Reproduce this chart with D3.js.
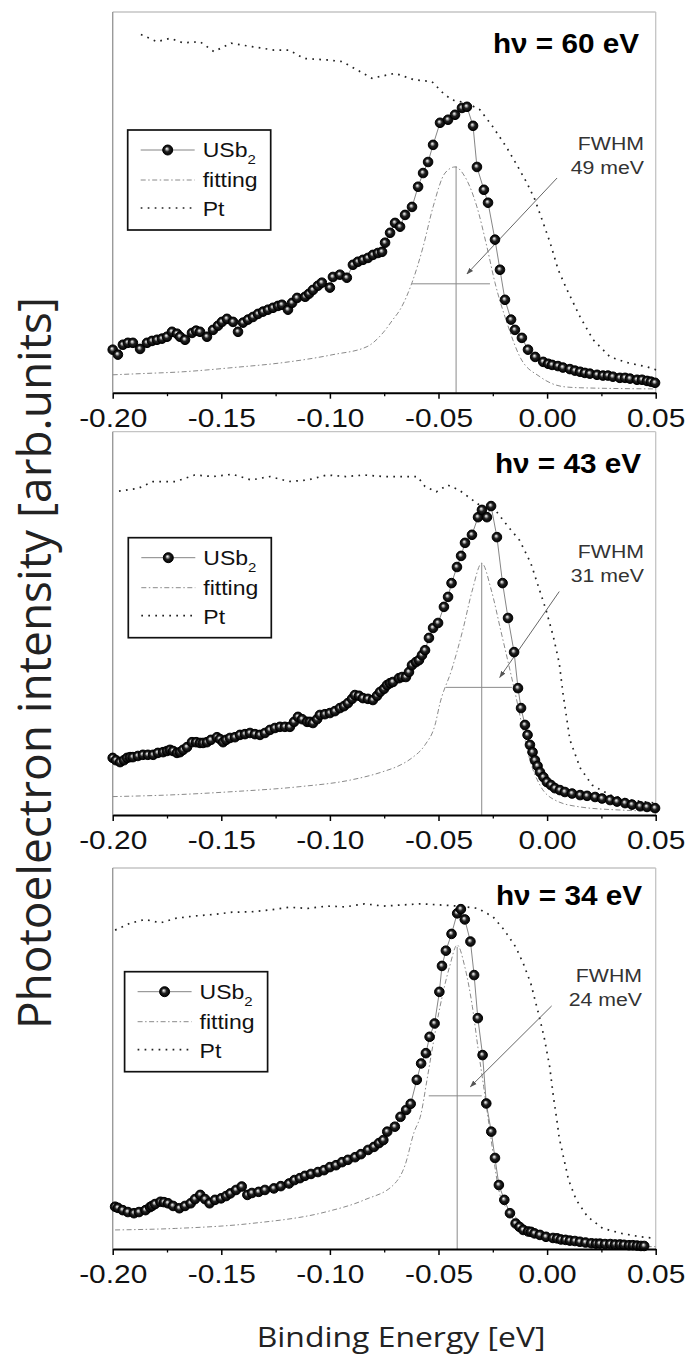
<!DOCTYPE html>
<html><head><meta charset="utf-8">
<script src="https://cdn.jsdelivr.net/npm/d3@7"></script>
<style>body{margin:0;background:#fff}</style>
</head><body>
<svg id="c" width="692" height="1356"></svg>
<script>
// ---------------- DATA ----------------
const energyTicks = [-0.20, -0.15, -0.10, -0.05, 0.00, 0.05];
const minorTicks = [-0.175, -0.125, -0.075, -0.025, 0.025];
const tickLabels = ["-0.20", "-0.15", "-0.10", "-0.05", "0.00", "0.05"];
const panelTitles = ["hν = 60 eV", "hν = 43 eV", "hν = 34 eV"];
const fwhmLabels = ["49 meV", "31 meV", "24 meV"];
const legendLabels = ["USb", "fitting", "Pt"];
const xTitle = "Binding Energy [eV]";
const yTitle = "Photoelectron intensity [arb.units]";

// hv = 60 eV  [energy (eV), intensity (arb.)]
const usb2_60 = [[-0.2000,11.3],[-0.1976,10.0],[-0.1953,12.6],[-0.1930,13.1],[-0.1907,13.1],[-0.1874,11.5],[-0.1842,13.1],[-0.1819,13.6],[-0.1796,13.9],[-0.1773,14.2],[-0.1750,14.7],[-0.1727,16.0],[-0.1704,15.5],[-0.1690,14.7],[-0.1667,13.9],[-0.1635,15.7],[-0.1616,16.3],[-0.1598,16.0],[-0.1566,14.7],[-0.1538,16.5],[-0.1515,17.6],[-0.1497,18.6],[-0.1474,19.4],[-0.1446,18.6],[-0.1423,16.0],[-0.1400,18.4],[-0.1377,19.2],[-0.1354,19.9],[-0.1331,20.7],[-0.1308,21.3],[-0.1285,21.8],[-0.1262,22.3],[-0.1239,22.8],[-0.1221,23.1],[-0.1193,21.8],[-0.1174,23.6],[-0.1151,24.9],[-0.1114,25.2],[-0.1096,26.0],[-0.1078,27.0],[-0.1055,28.1],[-0.1037,28.9],[-0.1000,27.6],[-0.0986,30.4],[-0.0954,31.0],[-0.0922,30.2],[-0.0894,33.6],[-0.0871,34.4],[-0.0848,34.9],[-0.0825,35.4],[-0.0802,36.2],[-0.0779,36.7],[-0.0760,37.0],[-0.0746,39.4],[-0.0723,42.0],[-0.0700,44.6],[-0.0677,43.6],[-0.0654,46.7],[-0.0622,48.8],[-0.0594,54.1],[-0.0571,57.7],[-0.0548,60.6],[-0.0525,65.1],[-0.0493,70.9],[-0.0456,71.7],[-0.0424,73.0],[-0.0392,74.8],[-0.0369,75.1],[-0.0341,70.1],[-0.0323,59.3],[-0.0291,53.3],[-0.0272,49.9],[-0.0240,40.2],[-0.0217,32.3],[-0.0194,24.4],[-0.0166,19.2],[-0.0148,16.5],[-0.0116,14.4],[-0.0088,11.3],[-0.0055,9.4],[-0.0018,8.1],[0.0005,7.6],[0.0023,7.3],[0.0050,7.0],[0.0073,6.6],[0.0105,6.2],[0.0128,5.8],[0.0152,5.5],[0.0174,5.2],[0.0197,5.0],[0.0230,4.7],[0.0257,4.5],[0.0280,4.5],[0.0303,4.2],[0.0335,3.9],[0.0359,3.9],[0.0382,3.7],[0.0414,3.4],[0.0437,3.4],[0.0460,3.1],[0.0478,2.9],[0.0497,2.6]];
const fit_60 = [[-0.2000,4.7],[-0.1874,5.0],[-0.1676,5.5],[-0.1446,6.6],[-0.1216,7.9],[-0.0986,10.0],[-0.0829,12.1],[-0.0756,15.7],[-0.0710,19.2],[-0.0677,21.8],[-0.0622,28.9],[-0.0571,38.3],[-0.0525,48.8],[-0.0470,57.7],[-0.0424,59.3],[-0.0378,56.7],[-0.0323,48.8],[-0.0277,38.3],[-0.0240,28.9],[-0.0185,18.4],[-0.0125,9.4],[-0.0033,4.2],[0.0073,1.6],[0.0152,1.3],[0.0502,1.0]];
const pt_60 = [[-0.1870,94.1],[-0.1796,92.2],[-0.1736,93.1],[-0.1676,91.9],[-0.1598,92.2],[-0.1534,89.6],[-0.1455,91.8],[-0.1359,90.9],[-0.1257,90.0],[-0.1188,90.0],[-0.1119,87.8],[-0.1013,87.4],[-0.0944,87.0],[-0.0875,84.8],[-0.0806,82.6],[-0.0700,83.9],[-0.0613,82.2],[-0.0530,81.7],[-0.0479,78.7],[-0.0438,76.9],[-0.0369,76.1],[-0.0309,74.3],[-0.0249,69.8],[-0.0185,64.3],[-0.0139,59.8],[-0.0093,55.1],[-0.0056,50.7],[-0.0018,44.6],[0.0014,39.4],[0.0051,32.3],[0.0092,27.0],[0.0152,19.9],[0.0212,13.9],[0.0290,9.4],[0.0368,7.9],[0.0460,6.8],[0.0502,6.0]];

// hv = 43 eV
const usb2_43 = [[-0.2000,14.9],[-0.1985,14.3],[-0.1966,13.8],[-0.1948,14.3],[-0.1934,14.9],[-0.1920,15.1],[-0.1907,15.1],[-0.1884,15.4],[-0.1861,15.7],[-0.1838,15.7],[-0.1814,15.7],[-0.1792,16.2],[-0.1768,16.4],[-0.1750,16.7],[-0.1736,17.0],[-0.1722,16.7],[-0.1704,16.2],[-0.1690,16.4],[-0.1676,17.0],[-0.1658,17.7],[-0.1635,19.0],[-0.1616,19.0],[-0.1598,18.8],[-0.1584,18.8],[-0.1566,19.0],[-0.1548,19.6],[-0.1520,20.3],[-0.1506,19.8],[-0.1492,19.0],[-0.1478,19.6],[-0.1460,20.1],[-0.1437,20.3],[-0.1414,20.9],[-0.1391,21.1],[-0.1368,21.4],[-0.1345,21.1],[-0.1322,20.9],[-0.1299,21.4],[-0.1276,22.2],[-0.1253,22.7],[-0.1230,23.0],[-0.1207,23.0],[-0.1184,23.0],[-0.1165,24.3],[-0.1147,25.6],[-0.1128,25.0],[-0.1105,24.3],[-0.1092,24.3],[-0.1078,24.0],[-0.1059,25.0],[-0.1046,26.1],[-0.1023,26.3],[-0.1000,26.6],[-0.0977,27.1],[-0.0954,27.9],[-0.0935,28.4],[-0.0917,29.2],[-0.0898,30.3],[-0.0885,31.3],[-0.0866,31.1],[-0.0848,30.5],[-0.0825,30.3],[-0.0802,30.0],[-0.0783,31.1],[-0.0769,32.1],[-0.0751,32.9],[-0.0737,33.9],[-0.0723,34.4],[-0.0710,34.7],[-0.0682,35.7],[-0.0668,36.0],[-0.0650,36.0],[-0.0636,37.3],[-0.0622,39.1],[-0.0604,39.9],[-0.0590,40.4],[-0.0576,41.7],[-0.0562,43.0],[-0.0544,46.2],[-0.0525,48.8],[-0.0502,50.1],[-0.0475,54.3],[-0.0456,56.9],[-0.0440,60.5],[-0.0415,64.7],[-0.0396,67.6],[-0.0378,71.0],[-0.0346,73.1],[-0.0318,77.7],[-0.0300,79.6],[-0.0277,77.7],[-0.0258,80.6],[-0.0231,72.5],[-0.0205,60.5],[-0.0180,51.4],[-0.0152,42.5],[-0.0134,33.1],[-0.0120,27.9],[-0.0102,23.5],[-0.0090,20.9],[-0.0079,18.3],[-0.0067,16.4],[-0.0056,14.3],[-0.0044,12.8],[-0.0033,11.2],[-0.0017,9.9],[-0.0001,8.6],[0.0018,7.8],[0.0036,7.0],[0.0059,6.5],[0.0082,6.0],[0.0115,5.6],[0.0152,5.2],[0.0184,5.0],[0.0221,4.7],[0.0253,4.3],[0.0290,3.9],[0.0322,3.5],[0.0359,3.1],[0.0391,2.7],[0.0428,2.3],[0.0460,2.1],[0.0497,1.8]];
const fit_43 = [[-0.2000,4.8],[-0.1750,5.2],[-0.1446,6.1],[-0.1138,7.4],[-0.0907,9.1],[-0.0756,11.3],[-0.0677,13.0],[-0.0622,14.9],[-0.0562,18.3],[-0.0516,23.5],[-0.0493,29.2],[-0.0440,37.8],[-0.0388,48.3],[-0.0344,58.7],[-0.0301,65.7],[-0.0257,58.7],[-0.0214,48.3],[-0.0171,37.8],[-0.0143,30.8],[-0.0116,23.5],[-0.0079,14.3],[-0.0033,7.8],[0.0036,3.9],[0.0152,2.1],[0.0336,1.3],[0.0502,1.0]];
const pt_43 = [[-0.1971,84.5],[-0.1884,85.2],[-0.1814,87.0],[-0.1710,87.0],[-0.1623,88.7],[-0.1536,88.3],[-0.1449,88.9],[-0.1362,87.4],[-0.1276,88.3],[-0.1188,87.0],[-0.1101,87.4],[-0.1014,88.7],[-0.0928,88.3],[-0.0841,88.7],[-0.0754,88.3],[-0.0667,88.3],[-0.0597,88.3],[-0.0562,85.7],[-0.0510,84.3],[-0.0458,86.1],[-0.0406,84.8],[-0.0353,82.6],[-0.0301,80.4],[-0.0232,79.1],[-0.0179,75.2],[-0.0127,71.7],[-0.0075,65.7],[-0.0040,59.6],[-0.0005,53.5],[0.0029,46.5],[0.0056,39.6],[0.0073,31.8],[0.0105,19.6],[0.0152,12.3],[0.0207,7.8],[0.0290,5.2],[0.0382,3.9],[0.0502,3.1]];

// hv = 34 eV
const usb2_34 = [[-0.1989,11.1],[-0.1976,10.8],[-0.1954,10.2],[-0.1930,9.7],[-0.1902,9.4],[-0.1879,9.7],[-0.1849,10.2],[-0.1828,11.0],[-0.1819,11.3],[-0.1805,11.8],[-0.1780,12.4],[-0.1764,12.3],[-0.1745,12.0],[-0.1722,11.3],[-0.1693,10.7],[-0.1667,11.3],[-0.1641,12.0],[-0.1621,13.1],[-0.1597,14.2],[-0.1575,13.1],[-0.1554,12.0],[-0.1529,12.9],[-0.1501,13.3],[-0.1478,13.9],[-0.1458,14.6],[-0.1432,15.5],[-0.1406,16.4],[-0.1380,14.2],[-0.1359,14.7],[-0.1328,15.0],[-0.1299,15.5],[-0.1258,15.9],[-0.1226,16.5],[-0.1188,17.2],[-0.1163,18.1],[-0.1138,18.6],[-0.1115,19.2],[-0.1087,19.7],[-0.1055,20.2],[-0.1027,20.7],[-0.1000,21.5],[-0.0972,22.0],[-0.0944,22.8],[-0.0917,23.4],[-0.0884,24.1],[-0.0857,24.9],[-0.0824,26.0],[-0.0797,26.8],[-0.0774,27.8],[-0.0754,28.6],[-0.0736,30.8],[-0.0701,32.1],[-0.0675,34.7],[-0.0649,36.5],[-0.0628,38.1],[-0.0600,44.4],[-0.0580,48.7],[-0.0558,51.4],[-0.0541,55.7],[-0.0518,59.2],[-0.0496,67.5],[-0.0484,74.3],[-0.0466,78.3],[-0.0440,82.7],[-0.0414,88.1],[-0.0397,89.2],[-0.0379,86.5],[-0.0353,80.7],[-0.0336,71.9],[-0.0319,60.6],[-0.0297,50.9],[-0.0280,38.2],[-0.0257,30.8],[-0.0240,23.9],[-0.0222,16.8],[-0.0197,12.9],[-0.0171,9.4],[-0.0145,6.7],[-0.0127,5.8],[-0.0110,5.0],[-0.0087,4.6],[-0.0074,4.5],[-0.0058,4.1],[-0.0033,3.7],[-0.0005,3.2],[0.0027,2.9],[0.0046,2.8],[0.0064,2.5],[0.0085,2.4],[0.0105,2.2],[0.0128,2.1],[0.0151,1.9],[0.0177,1.7],[0.0204,1.5],[0.0225,1.4],[0.0243,1.4],[0.0267,1.3],[0.0291,1.3],[0.0313,1.2],[0.0335,1.2],[0.0354,1.1],[0.0377,1.0],[0.0395,1.0],[0.0414,0.9],[0.0432,0.8],[0.0447,0.8]];
const fit_34 = [[-0.1989,5.0],[-0.1710,5.4],[-0.1363,6.7],[-0.1014,9.8],[-0.0841,12.9],[-0.0701,17.2],[-0.0654,22.0],[-0.0614,30.4],[-0.0580,35.6],[-0.0553,44.4],[-0.0527,53.1],[-0.0493,63.6],[-0.0449,74.1],[-0.0414,79.8],[-0.0379,74.1],[-0.0344,63.6],[-0.0319,53.1],[-0.0292,42.6],[-0.0266,32.1],[-0.0214,13.7],[-0.0162,9.4],[-0.0093,5.9],[-0.0005,4.1],[0.0117,2.4],[0.0290,1.0],[0.0499,0.6]];
const pt_34 = [[-0.1989,83.7],[-0.1920,85.5],[-0.1851,86.5],[-0.1780,85.6],[-0.1710,86.8],[-0.1623,87.4],[-0.1536,87.8],[-0.1449,88.4],[-0.1362,88.5],[-0.1276,89.0],[-0.1188,89.7],[-0.1101,89.4],[-0.1014,90.0],[-0.0928,89.8],[-0.0841,90.6],[-0.0754,90.0],[-0.0667,90.3],[-0.0580,90.6],[-0.0493,90.3],[-0.0406,90.0],[-0.0319,89.4],[-0.0249,87.2],[-0.0197,83.7],[-0.0145,79.3],[-0.0110,75.0],[-0.0075,69.7],[-0.0040,61.9],[-0.0014,55.7],[0.0012,47.8],[0.0029,40.0],[0.0047,33.0],[0.0056,29.1],[0.0099,18.1],[0.0134,12.9],[0.0186,8.5],[0.0256,5.4],[0.0343,4.1],[0.0430,3.2],[0.0499,2.8]];

// FWHM markers: [peak energy, peak height, half-height level, left edge, right edge]
const fwhm_60 = [-0.0419, 59.5, 28.6, -0.0622, -0.0263];
const fwhm_43 = [-0.0301, 65.7, 33.3, -0.0467, -0.0162];
const fwhm_34 = [-0.0414, 79.3, 40.2, -0.0545, -0.0301];
// arrows: [from energy, from intensity, to energy, to intensity]
const arrow_60 = [0.0046, 56.4, -0.0369, 31.2];
const arrow_43 = [0.0056, 58.3, -0.0218, 35.9];
const arrow_34 = [0.0021, 63.8, -0.0353, 42.6];

// ---------------- LAYOUT ----------------
const W = 692, H = 1356;
const plotL = 112.7, plotR = 655.7;
const SX = 1.15; // horizontal stretch of the printed text
const panels = [
  {top: 12,    bottom: 392.7, usb: usb2_60, fit: fit_60, pt: pt_60, fw: fwhm_60, ar: arrow_60, title: panelTitles[0], fl: fwhmLabels[0],
   titleY: 52.7, titleX: 639, legX: 127.7, legY: 130, fwX: 644, fwY: 150},
  {top: 431.7, bottom: 815,   usb: usb2_43, fit: fit_43, pt: pt_43, fw: fwhm_43, ar: arrow_43, title: panelTitles[1], fl: fwhmLabels[1],
   titleY: 473.3, titleX: 641, legX: 128.3, legY: 537.7, fwX: 644, fwY: 558.3},
  {top: 868,   bottom: 1249,  usb: usb2_34, fit: fit_34, pt: pt_34, fw: fwhm_34, ar: arrow_34, title: panelTitles[2], fl: fwhmLabels[2],
   titleY: 905, titleX: 642, legX: 124.6, legY: 971.7, fwX: 642, fwY: 981.7}
];

const svg = d3.select("#c");
svg.append("rect").attr("width", W).attr("height", H).attr("fill", "#fff");

const defs = svg.append("defs");
const grad = defs.append("radialGradient").attr("id", "sph")
  .attr("cx", "0.5").attr("cy", "0.5").attr("r", "0.5").attr("fx", "0.4").attr("fy", "0.36");
grad.append("stop").attr("offset", "0").attr("stop-color", "#ffffff");
grad.append("stop").attr("offset", "0.2").attr("stop-color", "#b0b0b0");
grad.append("stop").attr("offset", "0.5").attr("stop-color", "#222");
grad.append("stop").attr("offset", "1").attr("stop-color", "#000");
defs.append("marker").attr("id", "ah").attr("viewBox", "0 0 10 10").attr("refX", 9).attr("refY", 5)
  .attr("markerWidth", 7).attr("markerHeight", 7).attr("orient", "auto")
  .append("path").attr("d", "M0,1.5 L10,5 L0,8.5 Z").attr("fill", "#555");

const x = d3.scaleLinear().domain([-0.20, 0.05]).range([plotL, plotR]);

function stretchedText(g, px, py, str, size, opts = {}) {
  return g.append("text")
    .attr("transform", `translate(${px},${py}) scale(${opts.sx || SX},1)`)
    .attr("text-anchor", opts.anchor || "start")
    .attr("font-family", opts.family || "'Liberation Sans', Arial, sans-serif")
    .attr("font-size", size)
    .attr("font-weight", opts.weight || "normal")
    .attr("fill", opts.fill || "#111")
    .text(str);
}

panels.forEach((p) => {
  const g = svg.append("g");
  const y = d3.scaleLinear().domain([0, 100]).range([p.bottom, p.top]);
  const line = d3.line().x(d => x(d[0])).y(d => y(d[1]));
  const smooth = d3.line().curve(d3.curveMonotoneX).x(d => x(d[0])).y(d => y(d[1]));

  // frame
  g.append("line").attr("x1", plotL).attr("x2", plotR).attr("y1", p.top).attr("y2", p.top).attr("stroke", "#c4c4c4").attr("stroke-width", 1.3);
  g.append("line").attr("x1", plotR).attr("x2", plotR).attr("y1", p.top).attr("y2", p.bottom).attr("stroke", "#c4c4c4").attr("stroke-width", 1.3);
  g.append("line").attr("x1", plotL).attr("x2", plotL).attr("y1", p.top).attr("y2", p.bottom).attr("stroke", "#9a9a9a").attr("stroke-width", 1.4);

  // fitting curve
  g.append("path").datum(p.fit).attr("d", smooth).attr("fill", "none")
    .attr("stroke", "#8a8a8a").attr("stroke-width", 1).attr("stroke-dasharray", "5,2.5,1.5,2.5");
  // Pt reference
  g.append("path").datum(p.pt).attr("d", line).attr("fill", "none")
    .attr("stroke", "#222").attr("stroke-width", 1.7).attr("stroke-dasharray", "1.7,5.3");

  // FWHM construction
  const fw = p.fw;
  g.append("line").attr("x1", x(fw[0])).attr("x2", x(fw[0])).attr("y1", y(fw[1])).attr("y2", y(0))
    .attr("stroke", "#8a8a8a").attr("stroke-width", 1);
  g.append("line").attr("x1", x(fw[3])).attr("x2", x(fw[4])).attr("y1", y(fw[2])).attr("y2", y(fw[2]))
    .attr("stroke", "#8a8a8a").attr("stroke-width", 1);
  const ar = p.ar;
  g.append("line").attr("x1", x(ar[0])).attr("y1", y(ar[1])).attr("x2", x(ar[2])).attr("y2", y(ar[3]))
    .attr("stroke", "#666").attr("stroke-width", 1).attr("marker-end", "url(#ah)");

  // USb2 data
  g.append("path").datum(p.usb).attr("d", line).attr("fill", "none").attr("stroke", "#777").attr("stroke-width", 0.9);
  g.selectAll("circle.m").data(p.usb).join("circle").attr("class", "m")
    .attr("cx", d => x(d[0])).attr("cy", d => y(d[1])).attr("r", 4.8)
    .attr("fill", "url(#sph)").attr("stroke", "#000").attr("stroke-width", 1);

  // x axis
  const ax = g.append("g").attr("transform", `translate(0,${p.bottom})`)
    .call(d3.axisBottom(x).tickValues(energyTicks).tickSize(6).tickSizeOuter(0)
      .tickFormat((d, i) => tickLabels[i]));
  ax.select(".domain").attr("stroke", "#000").attr("stroke-width", 2);
  ax.selectAll(".tick line").attr("stroke", "#000").attr("stroke-width", 1.5);
  ax.selectAll(".tick text").attr("y", 0).attr("dy", 0)
    .attr("transform", `translate(0,34) scale(${SX},1)`)
    .attr("font-family", "'Liberation Sans', Arial, sans-serif").attr("font-size", 26).attr("fill", "#111");
  const axm = g.append("g").attr("transform", `translate(0,${p.bottom})`)
    .call(d3.axisBottom(x).tickValues(minorTicks).tickSize(3.5).tickFormat(""));
  axm.select(".domain").remove();
  axm.selectAll(".tick line").attr("stroke", "#000").attr("stroke-width", 1.3);

  // title
  stretchedText(g, p.titleX, p.titleY, p.title, 27.5, {anchor: "end", weight: "bold", sx: 1.08, fill: "#000"});

  // FWHM label
  stretchedText(g, p.fwX, p.fwY, "FWHM", 18.5, {anchor: "end", fill: "#333"});
  stretchedText(g, p.fwX, p.fwY + 24, p.fl, 18.5, {anchor: "end", fill: "#333"});

  // legend
  const lg = g.append("g").attr("transform", `translate(${p.legX},${p.legY})`);
  lg.append("rect").attr("x", 0).attr("y", 0).attr("width", 143).attr("height", 100)
    .attr("fill", "#fff").attr("stroke", "#111").attr("stroke-width", 1.7);
  lg.append("line").attr("x1", 13).attr("x2", 67).attr("y1", 20).attr("y2", 20).attr("stroke", "#777").attr("stroke-width", 0.9);
  lg.append("circle").attr("cx", 40).attr("cy", 20).attr("r", 5).attr("fill", "url(#sph)").attr("stroke", "#000").attr("stroke-width", 1);
  lg.append("line").attr("x1", 13).attr("x2", 67).attr("y1", 50).attr("y2", 50)
    .attr("stroke", "#8a8a8a").attr("stroke-width", 1).attr("stroke-dasharray", "5,2.5,1.5,2.5");
  lg.append("line").attr("x1", 13).attr("x2", 67).attr("y1", 78).attr("y2", 78)
    .attr("stroke", "#222").attr("stroke-width", 1.7).attr("stroke-dasharray", "1.7,5.3");
  const t0 = stretchedText(lg, 75, 27, legendLabels[0], 20);
  t0.append("tspan").attr("font-size", 13).attr("dy", 7).text("2");
  stretchedText(lg, 75, 57, legendLabels[1], 20);
  stretchedText(lg, 75, 86, legendLabels[2], 20);
});

// axis titles
svg.append("text")
  .attr("transform", `translate(401,1347) scale(1.14,1)`)
  .attr("text-anchor", "middle").attr("font-family", "'Open Sans', sans-serif")
  .attr("font-size", 28).attr("fill", "#222").text(xTitle);
svg.append("text")
  .attr("transform", `translate(51,663) rotate(-90)`)
  .attr("text-anchor", "middle").attr("font-family", "'Open Sans', sans-serif")
  .attr("font-size", 46).attr("fill", "#222").text(yTitle);
</script>
</body></html>
